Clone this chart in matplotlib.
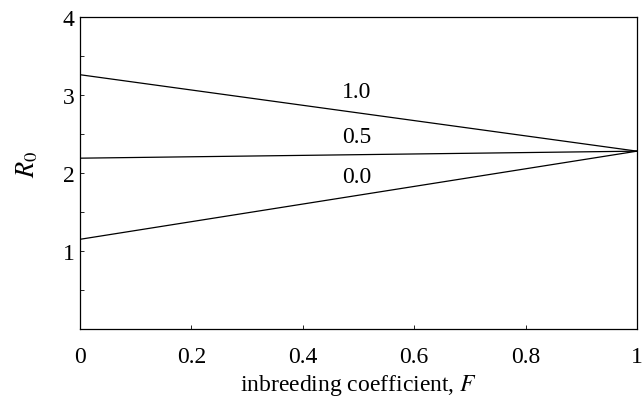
import numpy as np
import matplotlib
matplotlib.use("Agg")
import matplotlib.pyplot as plt

plt.rcParams['font.family'] = ['Liberation Serif', 'DejaVu Serif']
plt.rcParams['mathtext.fontset'] = 'stix'

# inbreeding coefficient and R0 at the two ends of each line
F = [0.0, 1.0]
r0_10 = [3.26, 2.28]
r0_05 = [2.19, 2.28]
r0_00 = [1.15, 2.28]
line_labels = ['1.0', '0.5', '0.0']
label_y = [3.05, 2.47, 1.95]

fig = plt.figure(figsize=(6.43, 4.06), dpi=100)
ax = fig.add_axes([80/643, 76/406, 557/643, 312/406])

for r in [r0_10, r0_05, r0_00]:
    ax.plot(F, r, color='black', lw=0.9)

for lab, y in zip(line_labels, label_y):
    ax.text(0.497, y, lab, ha='center', va='center', fontsize=17)

ax.set_xlim(0, 1)
ax.set_ylim(0, 4)
ax.set_xticks([0, 0.2, 0.4, 0.6, 0.8, 1])
ax.set_xticklabels(['0', '0.2', '0.4', '0.6', '0.8', '1'])
ax.set_yticks([1, 2, 3, 4])
ax.set_yticklabels(['1', '2', '3', '4'])
ax.set_yticks([0.5, 1.5, 2.5, 3.5], minor=True)
ax.tick_params(direction='in', length=3, width=0.6, labelsize=17, pad=12)
ax.tick_params(which='minor', direction='in', length=3, width=0.6)
ax.tick_params(axis='y', pad=4)
for s in ax.spines.values():
    s.set_linewidth(0.9)

ax.set_xlabel('inbreeding coefficient, $F$', fontsize=17, labelpad=4)
ax.set_ylabel('$R_0$', fontsize=19)
ax.yaxis.set_label_coords(-0.072, 0.53)

fig.savefig('out.png', dpi=100)
